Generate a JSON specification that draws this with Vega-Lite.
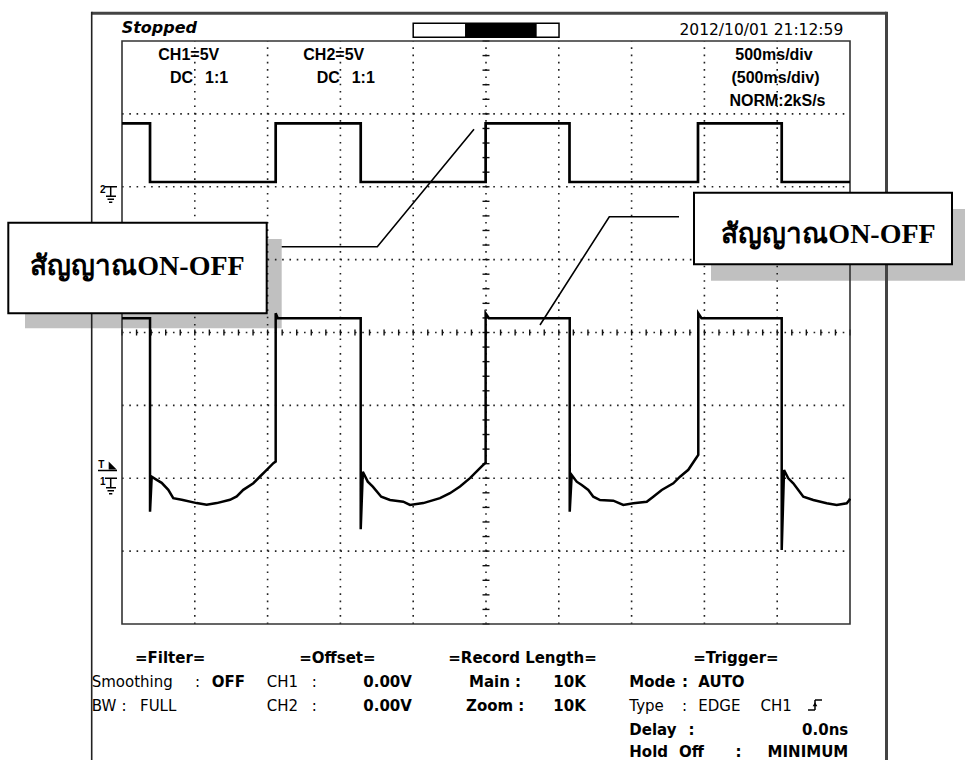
{
 "$schema": "https://vega.github.io/schema/vega-lite/v6.json",
 "width": 965, "height": 760, "padding": 0,
 "autosize": {"type": "none"},
 "background": "white",
 "config": {"view": {"stroke": null}, "axis": {"disable": true}},
 "datasets": {
  "shadow": [{"x": -1.3324, "x2": 2.1937, "y": 1.283, "y2": 0.0576}, {"x": 8.0907, "x2": 11.7, "y": 1.6947, "y2": 0.7108}],
  "box": [{"x": -1.5618, "x2": 1.9876, "y": 1.5067, "y2": 0.2635}, {"x": 7.8571, "x2": 11.401, "y": 1.9184, "y2": 0.9359}],
  "boxtext": [{"x": 0.2129, "y": 0.789, "t": "สัญญาณON-OFF"}, {"x": 9.7047, "y": 1.224, "t": "สัญญาณON-OFF"}],
  "leader": [
   {"g": 1, "i": 0, "x": 2.1937, "y": 1.1774}, {"g": 1, "i": 1, "x": 3.5069, "y": 1.1774}, {"g": 1, "i": 2, "x": 4.8352, "y": 2.7883},
   {"g": 2, "i": 0, "x": 7.6511, "y": 1.589}, {"g": 2, "i": 1, "x": 6.6937, "y": 1.589}, {"g": 2, "i": 2, "x": 5.7418, "y": 0.1029}
  ],
  "vg": [{"x": 1}, {"x": 2}, {"x": 3}, {"x": 4}, {"x": 5}, {"x": 6}, {"x": 7}, {"x": 8}, {"x": 9}],
  "hg": [{"y": -3}, {"y": -2}, {"y": -1}, {"y": 0}, {"y": 1}, {"y": 2}, {"y": 3}],
  "ht": [{"x":0},{"x":0.2},{"x":0.4},{"x":0.6},{"x":0.8},{"x":1},{"x":1.2},{"x":1.4},{"x":1.6},{"x":1.8},{"x":2},{"x":2.2},{"x":2.4},{"x":2.6},{"x":2.8},{"x":3},{"x":3.2},{"x":3.4},{"x":3.6},{"x":3.8},{"x":4},{"x":4.2},{"x":4.4},{"x":4.6},{"x":4.8},{"x":5},{"x":5.2},{"x":5.4},{"x":5.6},{"x":5.8},{"x":6},{"x":6.2},{"x":6.4},{"x":6.6},{"x":6.8},{"x":7},{"x":7.2},{"x":7.4},{"x":7.6},{"x":7.8},{"x":8},{"x":8.2},{"x":8.4},{"x":8.6},{"x":8.8},{"x":9},{"x":9.2},{"x":9.4},{"x":9.6},{"x":9.8},{"x":10}],
  "vt": [{"y":-4},{"y":-3.8},{"y":-3.6},{"y":-3.4},{"y":-3.2},{"y":-3},{"y":-2.8},{"y":-2.6},{"y":-2.4},{"y":-2.2},{"y":-2},{"y":-1.8},{"y":-1.6},{"y":-1.4},{"y":-1.2},{"y":-1},{"y":-0.8},{"y":-0.6},{"y":-0.4},{"y":-0.2},{"y":0},{"y":0.2},{"y":0.4},{"y":0.6},{"y":0.8},{"y":1},{"y":1.2},{"y":1.4},{"y":1.6},{"y":1.8},{"y":2},{"y":2.2},{"y":2.4},{"y":2.6},{"y":2.8},{"y":3},{"y":3.2},{"y":3.4},{"y":3.6},{"y":3.8},{"y":4}],
  "plot": [{"x": 0, "x2": 10, "y": -4, "y2": 4}],
  "frameTR": [{"x": -0.4162, "x2": 10.5014, "y": 4.38, "y2": 4.38}, {"x": 10.5014, "x2": 10.5014, "y": 4.40, "y2": -5.9}],
  "frameL": [{"x": -0.4162, "x2": -0.4162, "y": 4.40, "y2": -5.9}],
  "pbar": [{"x": 4.0, "x2": 6.003, "y": 4.051, "y2": 4.243}],
  "pfill": [{"x": 4.712, "x2": 5.696, "y": 4.051, "y2": 4.243}],
  "ch2": [
   {"i":0,"x":0,"y":2.871},{"i":1,"x":0.385,"y":2.871},{"i":2,"x":0.385,"y":2.065},{"i":3,"x":2.111,"y":2.065},{"i":4,"x":2.111,"y":2.871},{"i":5,"x":3.279,"y":2.871},{"i":6,"x":3.279,"y":2.065},{"i":7,"x":4.995,"y":2.065},{"i":8,"x":4.995,"y":2.871},{"i":9,"x":6.147,"y":2.871},{"i":10,"x":6.147,"y":2.065},{"i":11,"x":7.912,"y":2.065},{"i":12,"x":7.912,"y":2.871},{"i":13,"x":9.062,"y":2.871},{"i":14,"x":9.062,"y":2.065},{"i":15,"x":10,"y":2.065}
  ],
  "ch1": [
   {"i":0,"x":0,"y":0.195},{"i":1,"x":0.385,"y":0.195},{"i":2,"x":0.385,"y":-2.459},{"i":3,"x":0.408,"y":-1.979},{"i":4,"x":0.477,"y":-2.022},{"i":5,"x":0.545,"y":-2.063},{"i":6,"x":0.636,"y":-2.159},{"i":7,"x":0.704,"y":-2.273},{"i":8,"x":0.82,"y":-2.295},{"i":9,"x":1.026,"y":-2.341},{"i":10,"x":1.163,"y":-2.364},{"i":11,"x":1.301,"y":-2.341},{"i":12,"x":1.484,"y":-2.295},{"i":13,"x":1.576,"y":-2.25},{"i":14,"x":1.666,"y":-2.159},{"i":15,"x":1.804,"y":-2.068},{"i":16,"x":1.896,"y":-1.976},{"i":17,"x":1.988,"y":-1.884},{"i":18,"x":2.079,"y":-1.793},{"i":19,"x":2.111,"y":-1.772},{"i":20,"x":2.111,"y":0.263},{"i":21,"x":2.14,"y":0.195},
   {"i":22,"x":3.279,"y":0.195},{"i":23,"x":3.279,"y":-2.7},{"i":24,"x":3.308,"y":-1.91},{"i":25,"x":3.376,"y":-2.047},{"i":26,"x":3.445,"y":-2.116},{"i":27,"x":3.561,"y":-2.253},{"i":28,"x":3.681,"y":-2.299},{"i":29,"x":3.863,"y":-2.322},{"i":30,"x":3.956,"y":-2.367},{"i":31,"x":4.139,"y":-2.341},{"i":32,"x":4.368,"y":-2.273},{"i":33,"x":4.505,"y":-2.205},{"i":34,"x":4.643,"y":-2.113},{"i":35,"x":4.78,"y":-1.998},{"i":36,"x":4.941,"y":-1.838},{"i":37,"x":4.995,"y":-1.787},{"i":38,"x":4.995,"y":0.263},{"i":39,"x":5.04,"y":0.195},
   {"i":40,"x":6.15,"y":0.195},{"i":41,"x":6.15,"y":-2.459},{"i":42,"x":6.177,"y":-1.955},{"i":43,"x":6.246,"y":-2.047},{"i":44,"x":6.315,"y":-2.093},{"i":45,"x":6.405,"y":-2.161},{"i":46,"x":6.474,"y":-2.253},{"i":47,"x":6.566,"y":-2.299},{"i":48,"x":6.749,"y":-2.308},{"i":49,"x":6.886,"y":-2.367},{"i":50,"x":7.024,"y":-2.344},{"i":51,"x":7.208,"y":-2.322},{"i":52,"x":7.298,"y":-2.253},{"i":53,"x":7.414,"y":-2.161},{"i":54,"x":7.573,"y":-2.07},{"i":55,"x":7.665,"y":-1.979},{"i":56,"x":7.779,"y":-1.884},{"i":57,"x":7.871,"y":-1.747},{"i":58,"x":7.916,"y":-1.679},{"i":59,"x":7.916,"y":0.263},{"i":60,"x":7.96,"y":0.195},
   {"i":61,"x":9.062,"y":0.195},{"i":62,"x":9.062,"y":-2.985},{"i":63,"x":9.094,"y":-1.887},{"i":64,"x":9.152,"y":-2.001},{"i":65,"x":9.221,"y":-2.07},{"i":66,"x":9.29,"y":-2.161},{"i":67,"x":9.359,"y":-2.253},{"i":68,"x":9.496,"y":-2.299},{"i":69,"x":9.68,"y":-2.344},{"i":70,"x":9.817,"y":-2.367},{"i":71,"x":9.955,"y":-2.344},{"i":72,"x":9.991,"y":-2.299},{"i":73,"x":10,"y":-2.28}
  ],
  "gnd": [
   {"x":-0.2335,"x2":-0.0687,"y":2.0,"y2":2.0},{"x":-0.1552,"x2":-0.1552,"y":2.0,"y2":1.8696},{"x":-0.2198,"x2":-0.0824,"y":1.8696,"y2":1.8696},{"x":-0.1992,"x2":-0.1099,"y":1.8285,"y2":1.8285},{"x":-0.1786,"x2":-0.1332,"y":1.7873,"y2":1.7873},
   {"x":-0.2335,"x2":-0.0687,"y":-2.0,"y2":-2.0},{"x":-0.1552,"x2":-0.1552,"y":-2.0,"y2":-2.1304},{"x":-0.2198,"x2":-0.0824,"y":-2.1304,"y2":-2.1304},{"x":-0.1992,"x2":-0.1099,"y":-2.1715,"y2":-2.1715},{"x":-0.1786,"x2":-0.1332,"y":-2.2127,"y2":-2.2127},
   {"x":-0.3297,"x2":-0.0687,"y":-1.8937,"y2":-1.8937},
   {"x":9.423,"x2":9.5192,"y":-5.1801,"y2":-5.1801},{"x":9.5192,"x2":9.5192,"y":-5.1801,"y2":-5.0429},{"x":9.5192,"x2":9.6154,"y":-5.0429,"y2":-5.0429}
  ],
  "trig": [{"x": -0.1277, "y": -1.825}],
  "arrow": [{"x": 9.5192, "y": -5.10}],
  "gndtxt": [{"x": -0.3022, "y": 1.914, "t": "2"}, {"x": -0.3022, "y": -2.0926, "t": "1"}, {"x": -0.3255, "y": -1.8662, "t": "T"}],
  "stopped": [{"x": -0.0041, "y": 4.1098, "t": "Stopped"}],
  "date": [{"x": 9.908, "y": 4.0823, "t": "2012/10/01 21:12:59"}],
  "inleft": [
   {"x": 0.4986, "y": 3.7393, "t": "CH1=5V"}, {"x": 0.6593, "y": 3.4196, "t": "DC"}, {"x": 1.1401, "y": 3.4196, "t": "1:1"},
   {"x": 2.4904, "y": 3.7393, "t": "CH2=5V"}, {"x": 2.6745, "y": 3.4196, "t": "DC"}, {"x": 3.1552, "y": 3.4196, "t": "1:1"}
  ],
  "incenter": [
   {"x": 8.956, "y": 3.7393, "t": "500ms/div"}, {"x": 8.9766, "y": 3.4196, "t": "(500ms/div)"}, {"x": 9.0041, "y": 3.108, "t": "NORM:2kS/s"}
  ],
  "botbold": [
   {"x": 0.1786, "y": -4.54, "t": "=Filter="}, {"x": 2.4354, "y": -4.54, "t": "=Offset="}, {"x": 4.4821, "y": -4.54, "t": "=Record Length="}, {"x": 7.8475, "y": -4.54, "t": "=Trigger="},
   {"x": 1.2321, "y": -4.87, "t": "OFF"}, {"x": 3.3146, "y": -4.87, "t": "0.00V"}, {"x": 4.7665, "y": -4.87, "t": "Main :"}, {"x": 5.9245, "y": -4.87, "t": "10K"},
   {"x": 6.9684, "y": -4.87, "t": "Mode"}, {"x": 7.6923, "y": -4.87, "t": ":"}, {"x": 7.9162, "y": -4.87, "t": "AUTO"},
   {"x": 3.3146, "y": -5.194, "t": "0.00V"}, {"x": 4.7253, "y": -5.194, "t": "Zoom :"}, {"x": 5.9245, "y": -5.194, "t": "10K"},
   {"x": 6.9684, "y": -5.523, "t": "Delay"}, {"x": 7.7816, "y": -5.523, "t": ":"},
   {"x": 6.9684, "y": -5.821, "t": "Hold"}, {"x": 7.6511, "y": -5.821, "t": "Off"}, {"x": 8.4272, "y": -5.821, "t": ":"}
  ],
  "botnorm": [
   {"x": -0.4162, "y": -4.87, "t": "Smoothing"}, {"x": 1.0027, "y": -4.87, "t": ":"}, {"x": 1.9876, "y": -4.87, "t": "CH1"}, {"x": 2.6058, "y": -4.87, "t": ":"},
   {"x": -0.4162, "y": -5.194, "t": "BW"}, {"x": -0.0069, "y": -5.194, "t": ":"}, {"x": 0.2473, "y": -5.194, "t": "FULL"}, {"x": 1.9876, "y": -5.194, "t": "CH2"}, {"x": 2.6058, "y": -5.194, "t": ":"},
   {"x": 6.9684, "y": -5.194, "t": "Type"}, {"x": 7.6923, "y": -5.194, "t": ":"}, {"x": 7.9162, "y": -5.194, "t": "EDGE"}, {"x": 8.7706, "y": -5.194, "t": "CH1"}
  ],
  "botright": [{"x": 9.9766, "y": -5.523, "t": "0.0ns"}, {"x": 9.9766, "y": -5.821, "t": "MINIMUM"}]
 },
 "layer": [
  {"data": {"name": "shadow"}, "mark": {"type": "rect", "fill": "#c0c0c0"},
   "encoding": {"x": {"field": "x", "type": "quantitative", "scale": {"domain": [-1.67582, 11.57967], "nice": false, "zero": false}, "axis": null}, "x2": {"field": "x2"},
    "y": {"field": "y", "type": "quantitative", "scale": {"domain": [-5.86621, 4.56261], "nice": false, "zero": false}, "axis": null}, "y2": {"field": "y2"}}},
  {"data": {"name": "vg"}, "mark": {"type": "rule", "color": "#222", "strokeWidth": 1.6, "strokeDash": [1.6, 5.68]},
   "encoding": {"x": {"field": "x", "type": "quantitative", "scale": {"domain": [-1.67582, 11.57967], "nice": false, "zero": false}, "axis": null},
    "y": {"datum": -4, "type": "quantitative", "scale": {"domain": [-5.86621, 4.56261], "nice": false, "zero": false}, "axis": null}, "y2": {"datum": 4}}},
  {"data": {"name": "hg"}, "mark": {"type": "rule", "color": "#222", "strokeWidth": 1.6, "strokeDash": [1.6, 5.68]},
   "encoding": {"y": {"field": "y", "type": "quantitative", "scale": {"domain": [-5.86621, 4.56261], "nice": false, "zero": false}, "axis": null},
    "x": {"datum": 0, "type": "quantitative", "scale": {"domain": [-1.67582, 11.57967], "nice": false, "zero": false}, "axis": null}, "x2": {"datum": 10}}},
  {"data": {"name": "ht"}, "mark": {"type": "rule", "color": "#111", "strokeWidth": 1.4},
   "encoding": {"x": {"field": "x", "type": "quantitative", "scale": {"domain": [-1.67582, 11.57967], "nice": false, "zero": false}, "axis": null},
    "y": {"datum": -0.041, "type": "quantitative", "scale": {"domain": [-5.86621, 4.56261], "nice": false, "zero": false}, "axis": null}, "y2": {"datum": 0.041}}},
  {"data": {"name": "vt"}, "mark": {"type": "rule", "color": "#111", "strokeWidth": 1.4},
   "encoding": {"y": {"field": "y", "type": "quantitative", "scale": {"domain": [-5.86621, 4.56261], "nice": false, "zero": false}, "axis": null},
    "x": {"datum": 4.952, "type": "quantitative", "scale": {"domain": [-1.67582, 11.57967], "nice": false, "zero": false}, "axis": null}, "x2": {"datum": 5.048}}},
  {"data": {"name": "plot"}, "mark": {"type": "rect", "fill": null, "stroke": "#333", "strokeWidth": 1.6},
   "encoding": {"x": {"field": "x", "type": "quantitative", "scale": {"domain": [-1.67582, 11.57967], "nice": false, "zero": false}, "axis": null}, "x2": {"field": "x2"},
    "y": {"field": "y", "type": "quantitative", "scale": {"domain": [-5.86621, 4.56261], "nice": false, "zero": false}, "axis": null}, "y2": {"field": "y2"}}},
  {"data": {"name": "frameTR"}, "mark": {"type": "rule", "color": "#444", "strokeWidth": 3},
   "encoding": {"x": {"field": "x", "type": "quantitative", "scale": {"domain": [-1.67582, 11.57967], "nice": false, "zero": false}, "axis": null}, "x2": {"field": "x2"},
    "y": {"field": "y", "type": "quantitative", "scale": {"domain": [-5.86621, 4.56261], "nice": false, "zero": false}, "axis": null}, "y2": {"field": "y2"}}},
  {"data": {"name": "frameL"}, "mark": {"type": "rule", "color": "#222", "strokeWidth": 1.6},
   "encoding": {"x": {"field": "x", "type": "quantitative", "scale": {"domain": [-1.67582, 11.57967], "nice": false, "zero": false}, "axis": null}, "x2": {"field": "x2"},
    "y": {"field": "y", "type": "quantitative", "scale": {"domain": [-5.86621, 4.56261], "nice": false, "zero": false}, "axis": null}, "y2": {"field": "y2"}}},
  {"data": {"name": "pbar"}, "mark": {"type": "rect", "fill": "white", "stroke": "black", "strokeWidth": 1.5},
   "encoding": {"x": {"field": "x", "type": "quantitative", "scale": {"domain": [-1.67582, 11.57967], "nice": false, "zero": false}, "axis": null}, "x2": {"field": "x2"},
    "y": {"field": "y", "type": "quantitative", "scale": {"domain": [-5.86621, 4.56261], "nice": false, "zero": false}, "axis": null}, "y2": {"field": "y2"}}},
  {"data": {"name": "pfill"}, "mark": {"type": "rect", "fill": "black"},
   "encoding": {"x": {"field": "x", "type": "quantitative", "scale": {"domain": [-1.67582, 11.57967], "nice": false, "zero": false}, "axis": null}, "x2": {"field": "x2"},
    "y": {"field": "y", "type": "quantitative", "scale": {"domain": [-5.86621, 4.56261], "nice": false, "zero": false}, "axis": null}, "y2": {"field": "y2"}}},
  {"data": {"name": "ch2"}, "mark": {"type": "line", "color": "black", "strokeWidth": 2.7, "interpolate": "linear"},
   "encoding": {"x": {"field": "x", "type": "quantitative", "scale": {"domain": [-1.67582, 11.57967], "nice": false, "zero": false}, "axis": null},
    "y": {"field": "y", "type": "quantitative", "scale": {"domain": [-5.86621, 4.56261], "nice": false, "zero": false}, "axis": null}, "order": {"field": "i"}}},
  {"data": {"name": "ch1"}, "mark": {"type": "line", "color": "black", "strokeWidth": 2.5, "interpolate": "linear"},
   "encoding": {"x": {"field": "x", "type": "quantitative", "scale": {"domain": [-1.67582, 11.57967], "nice": false, "zero": false}, "axis": null},
    "y": {"field": "y", "type": "quantitative", "scale": {"domain": [-5.86621, 4.56261], "nice": false, "zero": false}, "axis": null}, "order": {"field": "i"}}},
  {"data": {"name": "gnd"}, "mark": {"type": "rule", "color": "black", "strokeWidth": 1.5},
   "encoding": {"x": {"field": "x", "type": "quantitative", "scale": {"domain": [-1.67582, 11.57967], "nice": false, "zero": false}, "axis": null}, "x2": {"field": "x2"},
    "y": {"field": "y", "type": "quantitative", "scale": {"domain": [-5.86621, 4.56261], "nice": false, "zero": false}, "axis": null}, "y2": {"field": "y2"}}},
  {"data": {"name": "trig"}, "mark": {"type": "point", "shape": "M -1 -1 L -1 1 L 1 1 Z", "size": 64, "filled": true, "color": "black", "opacity": 1},
   "encoding": {"x": {"field": "x", "type": "quantitative", "scale": {"domain": [-1.67582, 11.57967], "nice": false, "zero": false}, "axis": null},
    "y": {"field": "y", "type": "quantitative", "scale": {"domain": [-5.86621, 4.56261], "nice": false, "zero": false}, "axis": null}}},
  {"data": {"name": "arrow"}, "mark": {"type": "point", "shape": "triangle-up", "size": 22, "filled": true, "color": "black", "opacity": 1},
   "encoding": {"x": {"field": "x", "type": "quantitative", "scale": {"domain": [-1.67582, 11.57967], "nice": false, "zero": false}, "axis": null},
    "y": {"field": "y", "type": "quantitative", "scale": {"domain": [-5.86621, 4.56261], "nice": false, "zero": false}, "axis": null}}},
  {"data": {"name": "gndtxt"}, "mark": {"type": "text", "align": "left", "baseline": "alphabetic", "font": "Liberation Sans", "fontSize": 10, "fontWeight": "bold", "color": "black"},
   "encoding": {"x": {"field": "x", "type": "quantitative", "scale": {"domain": [-1.67582, 11.57967], "nice": false, "zero": false}, "axis": null},
    "y": {"field": "y", "type": "quantitative", "scale": {"domain": [-5.86621, 4.56261], "nice": false, "zero": false}, "axis": null}, "text": {"field": "t"}}},
  {"data": {"name": "stopped"}, "mark": {"type": "text", "align": "left", "baseline": "alphabetic", "font": "DejaVu Sans", "fontSize": 16, "fontWeight": "bold", "fontStyle": "italic", "color": "black"},
   "encoding": {"x": {"field": "x", "type": "quantitative", "scale": {"domain": [-1.67582, 11.57967], "nice": false, "zero": false}, "axis": null},
    "y": {"field": "y", "type": "quantitative", "scale": {"domain": [-5.86621, 4.56261], "nice": false, "zero": false}, "axis": null}, "text": {"field": "t"}}},
  {"data": {"name": "date"}, "mark": {"type": "text", "align": "right", "baseline": "alphabetic", "font": "DejaVu Sans", "fontSize": 15.5, "color": "black"},
   "encoding": {"x": {"field": "x", "type": "quantitative", "scale": {"domain": [-1.67582, 11.57967], "nice": false, "zero": false}, "axis": null},
    "y": {"field": "y", "type": "quantitative", "scale": {"domain": [-5.86621, 4.56261], "nice": false, "zero": false}, "axis": null}, "text": {"field": "t"}}},
  {"data": {"name": "inleft"}, "mark": {"type": "text", "align": "left", "baseline": "alphabetic", "font": "Liberation Sans", "fontSize": 16, "fontWeight": "bold", "color": "black"},
   "encoding": {"x": {"field": "x", "type": "quantitative", "scale": {"domain": [-1.67582, 11.57967], "nice": false, "zero": false}, "axis": null},
    "y": {"field": "y", "type": "quantitative", "scale": {"domain": [-5.86621, 4.56261], "nice": false, "zero": false}, "axis": null}, "text": {"field": "t"}}},
  {"data": {"name": "incenter"}, "mark": {"type": "text", "align": "center", "baseline": "alphabetic", "font": "Liberation Sans", "fontSize": 16, "fontWeight": "bold", "color": "black"},
   "encoding": {"x": {"field": "x", "type": "quantitative", "scale": {"domain": [-1.67582, 11.57967], "nice": false, "zero": false}, "axis": null},
    "y": {"field": "y", "type": "quantitative", "scale": {"domain": [-5.86621, 4.56261], "nice": false, "zero": false}, "axis": null}, "text": {"field": "t"}}},
  {"data": {"name": "botbold"}, "mark": {"type": "text", "align": "left", "baseline": "alphabetic", "font": "DejaVu Sans", "fontSize": 15, "fontWeight": "bold", "color": "black"},
   "encoding": {"x": {"field": "x", "type": "quantitative", "scale": {"domain": [-1.67582, 11.57967], "nice": false, "zero": false}, "axis": null},
    "y": {"field": "y", "type": "quantitative", "scale": {"domain": [-5.86621, 4.56261], "nice": false, "zero": false}, "axis": null}, "text": {"field": "t"}}},
  {"data": {"name": "botnorm"}, "mark": {"type": "text", "align": "left", "baseline": "alphabetic", "font": "DejaVu Sans", "fontSize": 15, "color": "black"},
   "encoding": {"x": {"field": "x", "type": "quantitative", "scale": {"domain": [-1.67582, 11.57967], "nice": false, "zero": false}, "axis": null},
    "y": {"field": "y", "type": "quantitative", "scale": {"domain": [-5.86621, 4.56261], "nice": false, "zero": false}, "axis": null}, "text": {"field": "t"}}},
  {"data": {"name": "botright"}, "mark": {"type": "text", "align": "right", "baseline": "alphabetic", "font": "DejaVu Sans", "fontSize": 15, "fontWeight": "bold", "color": "black"},
   "encoding": {"x": {"field": "x", "type": "quantitative", "scale": {"domain": [-1.67582, 11.57967], "nice": false, "zero": false}, "axis": null},
    "y": {"field": "y", "type": "quantitative", "scale": {"domain": [-5.86621, 4.56261], "nice": false, "zero": false}, "axis": null}, "text": {"field": "t"}}},
  {"data": {"name": "leader"}, "mark": {"type": "line", "color": "black", "strokeWidth": 1.6},
   "encoding": {"x": {"field": "x", "type": "quantitative", "scale": {"domain": [-1.67582, 11.57967], "nice": false, "zero": false}, "axis": null},
    "y": {"field": "y", "type": "quantitative", "scale": {"domain": [-5.86621, 4.56261], "nice": false, "zero": false}, "axis": null}, "detail": {"field": "g"}, "order": {"field": "i"}}},
  {"data": {"name": "box"}, "mark": {"type": "rect", "fill": "white", "stroke": "black", "strokeWidth": 2},
   "encoding": {"x": {"field": "x", "type": "quantitative", "scale": {"domain": [-1.67582, 11.57967], "nice": false, "zero": false}, "axis": null}, "x2": {"field": "x2"},
    "y": {"field": "y", "type": "quantitative", "scale": {"domain": [-5.86621, 4.56261], "nice": false, "zero": false}, "axis": null}, "y2": {"field": "y2"}}},
  {"data": {"name": "boxtext"}, "mark": {"type": "text", "align": "center", "baseline": "alphabetic", "font": "Liberation Serif", "fontSize": 28, "fontWeight": "bold", "color": "black"},
   "encoding": {"x": {"field": "x", "type": "quantitative", "scale": {"domain": [-1.67582, 11.57967], "nice": false, "zero": false}, "axis": null},
    "y": {"field": "y", "type": "quantitative", "scale": {"domain": [-5.86621, 4.56261], "nice": false, "zero": false}, "axis": null}, "text": {"field": "t"}}}
 ]
}
